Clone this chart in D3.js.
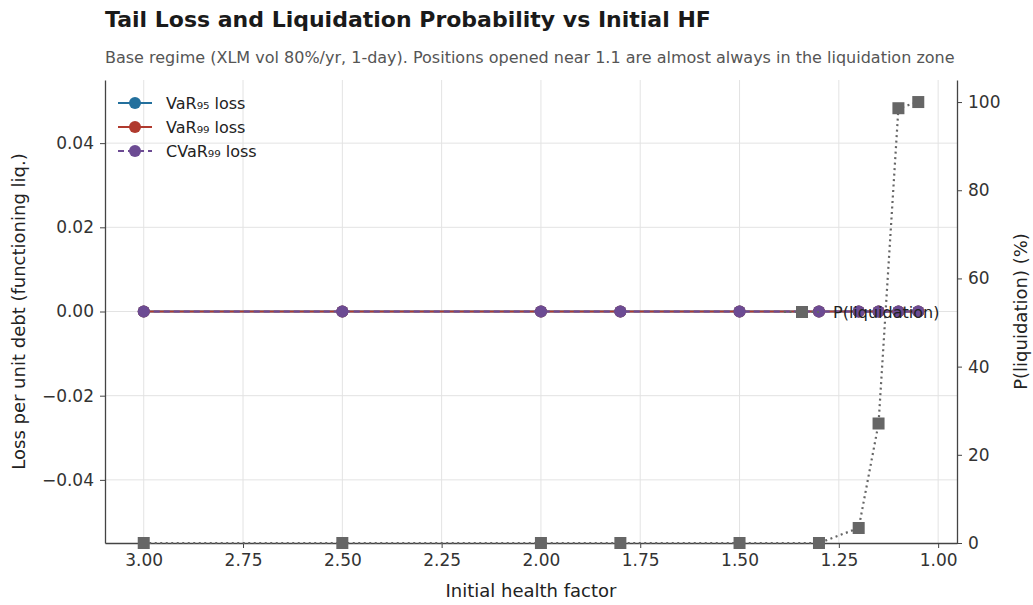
<!DOCTYPE html>
<html>
<head>
<meta charset="utf-8">
<script src="https://cdn.jsdelivr.net/npm/d3@7"></script>
<style>
  body { margin: 0; background: #fff; }
  svg { font-family: "DejaVu Sans", sans-serif; }
</style>
</head>
<body>
<div id="chart"></div>
<script>
"use strict";

const healthFactors = [3.0, 2.5, 2.0, 1.8, 1.5, 1.3, 1.2, 1.15, 1.1, 1.05];
const var95Loss = [0, 0, 0, 0, 0, 0, 0, 0, 0, 0];
const var99Loss = [0, 0, 0, 0, 0, 0, 0, 0, 0, 0];
const cvar99Loss = [0, 0, 0, 0, 0, 0, 0, 0, 0, 0];
const liqProbPct = [0, 0, 0, 0, 0, 0, 3.4, 27.1, 98.6, 100];
const xTicks = [3.0, 2.75, 2.5, 2.25, 2.0, 1.75, 1.5, 1.25, 1.0];
const leftTicks = [-0.04, -0.02, 0, 0.02, 0.04];
const rightTicks = [0, 20, 40, 60, 80, 100];

const lossSeries = [
  { name: "VaR₉₅ loss", values: var95Loss, color: "#23709d", dash: null },
  { name: "VaR₉₉ loss", values: var99Loss, color: "#b03a2e", dash: null },
  { name: "CVaR₉₉ loss", values: cvar99Loss, color: "#6c4b93", dash: "6,4" },
];

const width = 1033;
const height = 605;
const margin = { top: 80, right: 76, bottom: 62, left: 105 };
const innerW = width - margin.left - margin.right;
const innerH = height - margin.top - margin.bottom;

const svg = d3.select("#chart").append("svg")
  .attr("width", width)
  .attr("height", height);

svg.append("text")
  .attr("x", 105).attr("y", 27)
  .attr("font-size", 22).attr("font-weight", "bold").attr("fill", "#1a1a1a")
  .text("Tail Loss and Liquidation Probability vs Initial HF");

svg.append("text")
  .attr("x", 105).attr("y", 63)
  .attr("font-size", 16).attr("fill", "#555")
  .text("Base regime (XLM vol 80%/yr, 1-day). Positions opened near 1.1 are almost always in the liquidation zone");

const g = svg.append("g").attr("transform", `translate(${margin.left},${margin.top})`);

const x = d3.scaleLinear().domain([3.0975, 0.9525]).range([0, innerW]);
const yL = d3.scaleLinear().domain([-0.055, 0.055]).range([innerH, 0]);
const yR = d3.scaleLinear().domain([0, 105]).range([innerH, 0]);

// grid
g.append("g").selectAll("line").data(xTicks).join("line")
  .attr("x1", (d) => x(d)).attr("x2", (d) => x(d))
  .attr("y1", 0).attr("y2", innerH)
  .attr("stroke", "#e3e3e3").attr("stroke-width", 1);
g.append("g").selectAll("line").data(leftTicks).join("line")
  .attr("x1", 0).attr("x2", innerW)
  .attr("y1", (d) => yL(d)).attr("y2", (d) => yL(d))
  .attr("stroke", "#e3e3e3").attr("stroke-width", 1);

// axes
const styleAxis = (sel) => {
  sel.selectAll(".domain").attr("stroke", "#444").attr("stroke-width", 1.3);
  sel.selectAll(".tick line").attr("stroke", "#444");
  sel.selectAll(".tick text").attr("fill", "#333").attr("font-size", 17)
    .attr("font-family", "DejaVu Sans, sans-serif");
};

g.append("g").attr("transform", `translate(0,${innerH})`)
  .call(d3.axisBottom(x).tickValues(xTicks).tickFormat(d3.format(".2f")).tickSize(5).tickPadding(6).tickSizeOuter(0))
  .call(styleAxis);

g.append("g")
  .call(d3.axisLeft(yL).tickValues(leftTicks)
    .tickFormat((d) => d3.format(".2f")(d).replace("-", "\u2212")).tickSize(5).tickPadding(6).tickSizeOuter(0))
  .call(styleAxis);

g.append("g").attr("transform", `translate(${innerW},0)`)
  .call(d3.axisRight(yR).tickValues(rightTicks).tickSize(5).tickPadding(6).tickSizeOuter(0))
  .call(styleAxis);

svg.append("text")
  .attr("transform", `translate(25,${margin.top + innerH / 2}) rotate(-90)`)
  .attr("text-anchor", "middle").attr("font-size", 18).attr("fill", "#222")
  .text("Loss per unit debt (functioning liq.)");

svg.append("text")
  .attr("transform", `translate(1027,${margin.top + innerH / 2}) rotate(-90)`)
  .attr("text-anchor", "middle").attr("font-size", 18).attr("fill", "#222")
  .text("P(liquidation) (%)");

svg.append("text")
  .attr("x", margin.left + innerW / 2).attr("y", 597)
  .attr("text-anchor", "middle").attr("font-size", 18).attr("fill", "#222")
  .text("Initial health factor");

// liquidation probability (right axis)
const liqLine = d3.line().x((d, i) => x(healthFactors[i])).y((d) => yR(d));
g.append("path").datum(liqProbPct)
  .attr("d", liqLine).attr("fill", "none")
  .attr("stroke", "#666").attr("stroke-width", 2.2).attr("stroke-dasharray", "2,3.5");
g.append("g").selectAll("rect").data(liqProbPct).join("rect")
  .attr("x", (d, i) => x(healthFactors[i]) - 6).attr("y", (d) => yR(d) - 6)
  .attr("width", 12).attr("height", 12).attr("fill", "#666");

// loss series (left axis)
lossSeries.forEach((s) => {
  const line = d3.line().x((d, i) => x(healthFactors[i])).y((d) => yL(d));
  g.append("path").datum(s.values)
    .attr("d", line).attr("fill", "none")
    .attr("stroke", s.color).attr("stroke-width", 2.2)
    .attr("stroke-dasharray", s.dash);
  g.append("g").selectAll("circle").data(s.values).join("circle")
    .attr("cx", (d, i) => x(healthFactors[i])).attr("cy", (d) => yL(d))
    .attr("r", 6).attr("fill", s.color);
});

// legend (left axis)
const legend = svg.append("g").attr("transform", "translate(118,103)");
lossSeries.forEach((s, i) => {
  const row = legend.append("g").attr("transform", `translate(0,${i * 24})`);
  row.append("line").attr("x1", 0).attr("x2", 34).attr("y1", 0).attr("y2", 0)
    .attr("stroke", s.color).attr("stroke-width", 2.2).attr("stroke-dasharray", s.dash);
  row.append("circle").attr("cx", 17).attr("cy", 0).attr("r", 6).attr("fill", s.color);
  row.append("text").attr("x", 48).attr("y", 6).attr("font-size", 16).attr("fill", "#222").text(s.name);
});

// legend (right axis)
const legend2 = svg.append("g").attr("transform", "translate(784,312)");
legend2.append("line").attr("x1", 0).attr("x2", 36).attr("y1", 0).attr("y2", 0)
  .attr("stroke", "#666").attr("stroke-width", 2.2).attr("stroke-dasharray", "2,3.5");
legend2.append("rect").attr("x", 12).attr("y", -6).attr("width", 12).attr("height", 12).attr("fill", "#666");
legend2.append("text").attr("x", 49).attr("y", 6).attr("font-size", 16).attr("fill", "#222").text("P(liquidation)");
</script>
</body>
</html>
